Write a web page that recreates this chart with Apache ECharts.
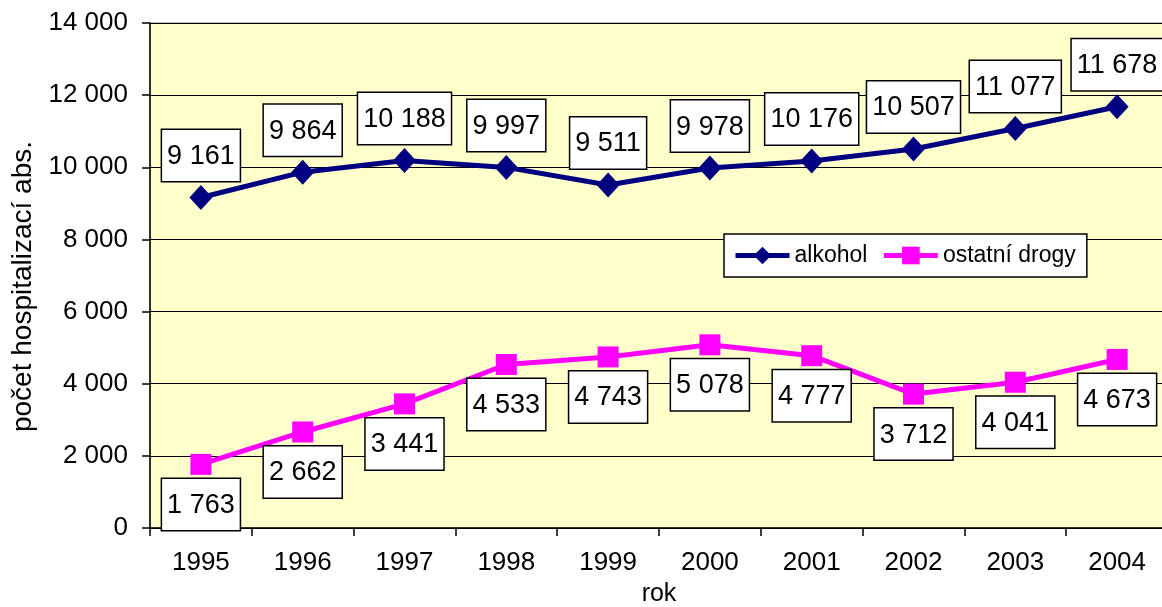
<!DOCTYPE html>
<html>
<head>
<meta charset="utf-8">
<script src="https://cdn.jsdelivr.net/npm/echarts@6/dist/echarts.min.js"></script>
<style>
  html, body { margin: 0; padding: 0; background: #fff; }
  #chart { width: 1162px; height: 607px; }
</style>
</head>
<body>
<div id="chart"></div>
<script>
// data
var years = ['1995', '1996', '1997', '1998', '1999', '2000', '2001', '2002', '2003', '2004'];
var alkohol = [9161, 9864, 10188, 9997, 9511, 9978, 10176, 10507, 11077, 11678];
var ostatniDrogy = [1763, 2662, 3441, 4533, 4743, 5078, 4777, 3712, 4041, 4673];

var FONT = '"Liberation Sans", Arial, sans-serif';

// 9161 -> "9 161"
function fmt(v) {
    return String(v).replace(/\B(?=(\d{3})+(?!\d))/g, ' ');
}

var boxLabel = {
    show: true,
    formatter: function (p) { return fmt(p.value); },
    fontFamily: FONT,
    fontSize: 27,
    lineHeight: 31,
    color: '#000',
    backgroundColor: '#fff',
    borderColor: '#000',
    borderWidth: 1.5,
    padding: [11, 5, 9, 5],
    distance: 4
};

var myChart = echarts.init(document.getElementById('chart'));
myChart.setOption({
    animation: false,
    textStyle: { fontFamily: FONT },
    grid: {
        left: 150,
        top: 23,
        right: -6,
        bottom: 79,
        outerBoundsMode: 'none',
        containLabel: false,
        show: true,
        backgroundColor: '#FFFFCC',
        borderColor: '#808080',
        borderWidth: 1
    },
    legend: {
        left: 724,
        top: 234,
        orient: 'horizontal',
        backgroundColor: '#fff',
        borderColor: '#000',
        borderWidth: 1.5,
        padding: [10, 11, 10, 9],
        itemWidth: 54,
        itemHeight: 22,
        itemGap: 14,
        lineStyle: { width: 5 },
        textStyle: { fontFamily: FONT, fontSize: 23, color: '#000' },
        data: ['alkohol', 'ostatní drogy']
    },
    xAxis: {
        type: 'category',
        data: years,
        boundaryGap: true,
        name: 'rok',
        nameLocation: 'middle',
        nameGap: 54,
        nameTextStyle: { fontFamily: FONT, fontSize: 25, color: '#000' },
        axisLine: { lineStyle: { color: '#000', width: 1.5 } },
        axisTick: { show: true, length: 8, lineStyle: { color: '#000', width: 1.5 } },
        axisLabel: { fontFamily: FONT, fontSize: 26, color: '#000', margin: 22 },
        splitLine: { show: false }
    },
    yAxis: {
        type: 'value',
        min: 0,
        max: 14000,
        interval: 2000,
        name: 'počet hospitalizací abs.',
        nameLocation: 'middle',
        nameGap: 112,
        nameTextStyle: { fontFamily: FONT, fontSize: 28, color: '#000', padding: [0, 22, 0, 0] },
        axisLine: { show: true, lineStyle: { color: '#000', width: 1.5 } },
        axisTick: { show: true, length: 8, lineStyle: { color: '#000', width: 1.5 } },
        axisLabel: {
            fontFamily: FONT, fontSize: 26, color: '#000', margin: 22,
            formatter: function (v) { return fmt(v); }
        },
        splitLine: { show: true, lineStyle: { color: '#000', width: 1.2 } }
    },
    series: [
        {
            name: 'alkohol',
            type: 'line',
            data: alkohol,
            color: '#000080',
            symbol: 'diamond',
            symbolSize: [23, 25],
            lineStyle: { width: 5, color: '#000080' },
            itemStyle: { color: '#000080' },
            label: Object.assign({}, boxLabel, { position: 'top' }),
            z: 3
        },
        {
            name: 'ostatní drogy',
            type: 'line',
            data: ostatniDrogy,
            color: '#FF00FF',
            symbol: 'rect',
            symbolSize: 21,
            lineStyle: { width: 5, color: '#FF00FF' },
            itemStyle: { color: '#FF00FF' },
            label: Object.assign({}, boxLabel, { position: 'bottom' }),
            z: 3
        }
    ]
});
</script>
</body>
</html>
